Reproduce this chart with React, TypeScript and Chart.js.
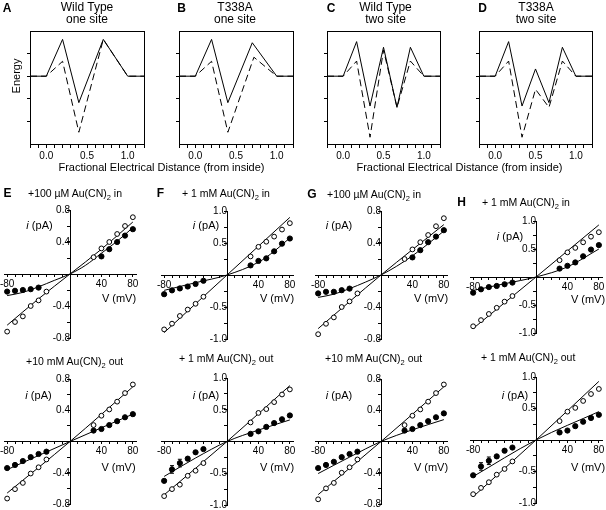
import React, { useEffect, useRef } from "react";
import { Chart, registerables } from "chart.js";

Chart.register(...registerables);
Chart.defaults.color = "#000";
Chart.defaults.font.family = '"Liberation Sans", Arial, Helvetica, sans-serif';

const FONT = '"Liberation Sans", Arial, Helvetica, sans-serif';

// ---------------- Energy profiles (panels A-D) ----------------
const oneSiteX = [-0.2, 0, 0.2, 0.4, 0.7, 1.0, 1.2];
const wtOneSolid = [0, 0, 1.63, -1.17, 1.63, 0, 0];
const wtOneDashed = [0, 0, 0.66, -2.48, 1.63, 0, 0];
const t338OneSolid = [0, 0, 1.63, -1.17, 1.48, 0, 0];
const t338OneDashedX = [-0.2, 0, 0.2, 0.4, 0.72, 1.0, 1.2];
const t338OneDashed = [0, 0, 0.66, -2.48, 0.84, 0, 0];
const twoSiteX = [-0.2, 0, 0.167, 0.333, 0.5, 0.667, 0.833, 1.0, 1.2];
const wtTwoSolid = [0, 0, 1.53, -1.32, 1.28, -1.38, 1.28, 0, 0];
const wtTwoDashed = [0, 0, 0.67, -2.7, 1.16, -1.38, 0.67, 0, 0];
const t338TwoSolid = [0, 0, 1.53, -1.32, 0.32, -1.17, 1.28, 0, 0];
const t338TwoDashed = [0, 0, 0.67, -2.7, -0.58, -1.38, 0.67, 0, 0];
const energyXTicks = [-0.2, -0.1, 0, 0.1, 0.2, 0.3, 0.4, 0.5, 0.6, 0.7, 0.8, 0.9, 1.0, 1.1, 1.2];
const energyXLabels = [0, 0.5, 1.0];
const energyYTicks = [-2, -1, 0, 1];

// ---------------- I-V data (panels E-H) ----------------
const vFull = [-80, -70, -60, -50, -40, -30, 30, 40, 50, 60, 70, 80];
const vPart = [-80, -70, -60, -50, -40, 40, 50, 60, 70, 80];
const ivXTicks = [-80, -70, -60, -50, -40, -30, -20, -10, 0, 10, 20, 30, 40, 50, 60, 70, 80];
const ivXLabels = [-80, 40, 80];

// E top: +100 uM Au(CN)2 in
const eInOpen = [-0.72, -0.6, -0.53, -0.4, -0.33, -0.22, 0.21, 0.32, 0.4, 0.5, 0.6, 0.71];
const eInFilled = [-0.22, -0.21, -0.2, -0.19, -0.17, 0.22, 0.31, 0.4, 0.48, 0.56];
const eInFitOpenV = [-80, -40, 0, 40, 80];
const eInFitOpen = [-0.64, -0.31, 0, 0.31, 0.65];
const eInFitFilledV = [-80, -60, -40, -20, 0, 20, 40, 60, 80];
const eInFitFilled = [-0.27, -0.23, -0.16, -0.08, 0, 0.11, 0.26, 0.41, 0.58];

// F top: +1 mM Au(CN)2 in
const fInOpen = [-0.85, -0.76, -0.64, -0.54, -0.45, -0.34, 0.29, 0.44, 0.52, 0.6, 0.71, 0.81];
const fInFilled = [-0.3, -0.24, -0.21, -0.18, -0.14, -0.09, 0.15, 0.22, 0.26, 0.37, 0.49, 0.57];
const fInFitOpenV = [-80, 0, 80];
const fInFitOpen = [-0.9, 0, 0.9];
const fInFitFilledV = [-80, -40, 0, 40, 60, 80];
const fInFitFilled = [-0.24, -0.12, 0, 0.2, 0.37, 0.58];

// G top: +100 uM Au(CN)2 in
const gInOpen = [-0.74, -0.61, -0.53, -0.4, -0.33, -0.23, 0.2, 0.32, 0.41, 0.5, 0.61, 0.71];
const gInFilled = [-0.23, -0.21, -0.21, -0.19, -0.17, 0.22, 0.31, 0.41, 0.48, 0.56];
const gInFitOpenV = [-80, 0, 80];
const gInFitOpen = [-0.67, 0, 0.63];
const gInFitFilledV = [-80, -60, -40, -20, 0, 20, 40, 60, 80];
const gInFitFilled = [-0.28, -0.24, -0.17, -0.09, 0, 0.11, 0.24, 0.39, 0.55];

// H top: +1 mM Au(CN)2 in
const hInOpen = [-0.88, -0.77, -0.66, -0.55, -0.44, -0.34, 0.3, 0.44, 0.52, 0.62, 0.72, 0.8];
const hInFilled = [-0.28, -0.22, -0.18, -0.16, -0.13, -0.1, 0.15, 0.2, 0.26, 0.37, 0.49, 0.57];
const hInFitOpenV = [-80, 0, 80];
const hInFitOpen = [-0.92, 0, 0.93];
const hInFitFilledV = [-80, -40, 0, 40, 80];
const hInFitFilled = [-0.24, -0.12, 0, 0.18, 0.5];

// E bottom: +10 mM Au(CN)2 out
const eOutOpen = [-0.73, -0.61, -0.53, -0.41, -0.33, -0.23, 0.21, 0.33, 0.41, 0.51, 0.62, 0.73];
const eOutFilled = [-0.34, -0.3, -0.25, -0.2, -0.16, -0.13, 0.14, 0.16, 0.21, 0.26, 0.31, 0.35];
const eOutFitOpenV = [-80, 0, 80];
const eOutFitOpen = [-0.66, 0, 0.7];
const eOutFitFilledV = [-80, 0, 80];
const eOutFitFilled = [-0.36, 0, 0.35];

// F bottom: +1 mM Au(CN)2 out
const fOutOpen = [-0.86, -0.75, -0.68, -0.54, -0.46, -0.34, 0.3, 0.45, 0.51, 0.62, 0.74, 0.82];
const fOutFilled = [-0.62, -0.44, -0.34, -0.27, -0.17, -0.12, 0.12, 0.16, 0.23, 0.29, 0.35, 0.41];
const fOutFilledErr = [0, 0.06, 0.06, 0, 0, 0, 0, 0, 0, 0, 0, 0];
const fOutFitOpenV = [-80, 0, 80];
const fOutFitOpen = [-0.84, 0, 0.88];
const fOutFitFilledV = [-80, -40, 0, 40, 80];
const fOutFitFilled = [-0.55, -0.26, 0, 0.18, 0.34];

// G bottom: +10 mM Au(CN)2 out
const gOutOpen = [-0.74, -0.6, -0.53, -0.4, -0.33, -0.23, 0.21, 0.33, 0.41, 0.51, 0.62, 0.73];
const gOutFilled = [-0.34, -0.3, -0.26, -0.2, -0.16, -0.13, 0.14, 0.16, 0.21, 0.26, 0.31, 0.36];
const gOutFitOpenV = [-80, 0, 80];
const gOutFitOpen = [-0.68, 0, 0.7];
const gOutFitFilledV = [-80, -40, 0, 40, 80];
const gOutFitFilled = [-0.41, -0.2, 0, 0.15, 0.28];

// H bottom: +1 mM Au(CN)2 out
const hOutOpen = [-0.86, -0.76, -0.67, -0.55, -0.46, -0.34, 0.3, 0.45, 0.51, 0.62, 0.73, 0.81];
const hOutFilled = [-0.56, -0.42, -0.33, -0.26, -0.17, -0.12, 0.12, 0.15, 0.22, 0.29, 0.35, 0.4];
const hOutFilledErr = [0, 0.06, 0.06, 0, 0, 0, 0, 0, 0, 0, 0, 0];
const hOutFitOpenV = [-80, 0, 80];
const hOutFitOpen = [-0.9, 0, 0.93];
const hOutFitFilledV = [-80, 0, 80];
const hOutFitFilled = [-0.58, 0, 0.45];

// ---------------- helpers ----------------
const pts = (xs: number[], ys: number[]) => xs.map((x, i) => ({ x, y: ys[i] }));
const near = (a: number, list: number[]) => list.some((b) => Math.abs(a - b) < 1e-6);

const errorBarPlugin = {
  id: "errbars",
  beforeDatasetsDraw(chart: any) {
    const { ctx } = chart;
    const xs = chart.scales.x;
    const ys = chart.scales.y;
    chart.data.datasets.forEach((ds: any) => {
      if (!ds.errors) return;
      ds.data.forEach((p: any, j: number) => {
        const e = ds.errors[j];
        if (!e) return;
        const px = xs.getPixelForValue(p.x);
        const y1 = ys.getPixelForValue(p.y + e);
        const y2 = ys.getPixelForValue(p.y - e);
        ctx.save();
        ctx.strokeStyle = "#000";
        ctx.lineWidth = 1;
        ctx.beginPath();
        ctx.moveTo(px, y1);
        ctx.lineTo(px, y2);
        ctx.moveTo(px - 2, y1);
        ctx.lineTo(px + 2, y1);
        ctx.moveTo(px - 2, y2);
        ctx.lineTo(px + 2, y2);
        ctx.stroke();
        ctx.restore();
      });
    });
  },
};

const PAD = 30;

type Rect = { left: number; top: number; width: number; height: number };

function ChartCanvas({ rect, config }: { rect: Rect; config: any }) {
  const ref = useRef<HTMLCanvasElement>(null);
  useEffect(() => {
    const chart = new Chart(ref.current as HTMLCanvasElement, config);
    return () => chart.destroy();
  }, []);
  const w = rect.width + 2 * PAD;
  const h = rect.height + 2 * PAD;
  return (
    <canvas
      ref={ref}
      width={w}
      height={h}
      style={{ position: "absolute", left: rect.left - PAD, top: rect.top - PAD, width: w, height: h }}
    />
  );
}

const tickFont = { family: FONT, size: 10 };

function energyConfig(solidX: number[], solid: number[], dashedX: number[], dashed: number[]) {
  const frame = (axis: string, position: any) => ({
    type: "linear",
    axis,
    min: axis === "x" ? -0.2 : -3,
    max: axis === "x" ? 1.2 : 2,
    position,
    ticks: { display: false },
    grid: { display: false, drawTicks: false },
    border: { display: true, color: "#000", width: 1 },
  });
  return {
    type: "scatter",
    data: {
      datasets: [
        { data: pts(solidX, solid), showLine: true, borderColor: "#000", borderWidth: 1, pointRadius: 0 },
        { data: pts(dashedX, dashed), showLine: true, borderColor: "#000", borderWidth: 1, borderDash: [7, 4], pointRadius: 0 },
      ],
    },
    options: {
      animation: false,
      responsive: false,
      events: [],
      layout: { padding: PAD },
      plugins: { legend: { display: false }, tooltip: { enabled: false } },
      scales: {
        x: {
          type: "linear",
          min: -0.2,
          max: 1.2,
          position: { y: -3 },
          afterBuildTicks: (s: any) => { s.ticks = energyXTicks.map((v) => ({ value: v })); },
          ticks: {
            autoSkip: false,
            maxRotation: 0,
            padding: 3,
            font: tickFont,
            callback: (v: number) => (near(v, energyXLabels) ? v.toFixed(1) : ""),
          },
          grid: { display: true, drawOnChartArea: false, drawTicks: true, tickLength: 3, color: "#000" },
          border: { display: true, color: "#000", width: 1 },
        },
        y: {
          type: "linear",
          min: -3,
          max: 2,
          position: { x: -0.2 },
          afterBuildTicks: (s: any) => { s.ticks = energyYTicks.map((v) => ({ value: v })); },
          ticks: { display: false },
          grid: { display: true, drawOnChartArea: false, drawTicks: true, tickLength: 3, color: "#000" },
          border: { display: true, color: "#000", width: 1 },
        },
        xTop: frame("x", { y: 2 }),
        yRight: frame("y", { x: 1.2 }),
      },
    },
  };
}

type IVSpec = {
  ox: number; oy: number; sx: number; sy: number;
  yMax: number; yLabelStep: number;
  openV: number[]; openI: number[];
  filledV: number[]; filledI: number[]; filledErr?: number[];
  fitOpenV: number[]; fitOpenI: number[];
  fitFilledV: number[]; fitFilledI: number[];
};

const X_MIN = -84;
const X_MAX = 84;

function ivRect(s: IVSpec): Rect {
  const left = Math.round(s.ox + X_MIN * s.sx);
  const right = Math.round(s.ox + X_MAX * s.sx);
  const top = Math.round(s.oy - s.yMax * s.sy);
  const bottom = Math.round(s.oy + s.yMax * s.sy);
  return { left, top, width: right - left, height: bottom - top };
}

function ivConfig(s: IVSpec) {
  const yLabels = [-2, -1, 1, 2].map((k) => k * s.yLabelStep);
  const yTicks = [-4, -3, -2, -1, 0, 1, 2, 3, 4].map((k) => (k * s.yLabelStep) / 2);
  return {
    type: "scatter",
    plugins: [errorBarPlugin],
    data: {
      datasets: [
        { data: pts(s.openV, s.openI), pointRadius: 2.4, pointBorderWidth: 1, pointBackgroundColor: "#fff", pointBorderColor: "#000", clip: false, order: 0 },
        { data: pts(s.filledV, s.filledI), errors: s.filledErr, pointRadius: 2.6, pointBorderWidth: 1, pointBackgroundColor: "#000", pointBorderColor: "#000", clip: false, order: 1 },
        { data: pts(s.fitOpenV, s.fitOpenI), showLine: true, pointRadius: 0, borderColor: "#000", borderWidth: 1, cubicInterpolationMode: "monotone", clip: false, order: 2 },
        { data: pts(s.fitFilledV, s.fitFilledI), showLine: true, pointRadius: 0, borderColor: "#000", borderWidth: 1, cubicInterpolationMode: "monotone", clip: false, order: 3 },
      ],
    },
    options: {
      animation: false,
      responsive: false,
      events: [],
      layout: { padding: PAD },
      plugins: { legend: { display: false }, tooltip: { enabled: false } },
      scales: {
        x: {
          type: "linear",
          min: X_MIN,
          max: X_MAX,
          position: { y: 0 },
          afterBuildTicks: (sc: any) => { sc.ticks = ivXTicks.map((v) => ({ value: v })); },
          ticks: {
            autoSkip: false,
            maxRotation: 0,
            padding: 2,
            font: tickFont,
            callback: (v: number) => (near(v, ivXLabels) ? String(v) : ""),
          },
          grid: { display: true, drawOnChartArea: false, drawTicks: true, tickLength: 2, color: "#000" },
          border: { display: true, color: "#000", width: 1 },
        },
        y: {
          type: "linear",
          min: -s.yMax,
          max: s.yMax,
          position: { x: 0 },
          afterBuildTicks: (sc: any) => { sc.ticks = yTicks.map((v) => ({ value: v })); },
          ticks: {
            autoSkip: false,
            padding: 1,
            font: tickFont,
            callback: (v: number) => (near(v, yLabels) ? v.toFixed(1) : ""),
          },
          grid: { display: true, drawOnChartArea: false, drawTicks: true, tickLength: 3, color: "#000" },
          border: { display: true, color: "#000", width: 1 },
        },
      },
    },
  };
}

// ---------------- layout ----------------
const energyRects: Rect[] = [
  { left: 30, top: 31, width: 114, height: 113 },
  { left: 179, top: 31, width: 114, height: 113 },
  { left: 327, top: 31, width: 113, height: 113 },
  { left: 479, top: 31, width: 113, height: 113 },
];
const energyConfigs = [
  energyConfig(oneSiteX, wtOneSolid, oneSiteX, wtOneDashed),
  energyConfig(oneSiteX, t338OneSolid, t338OneDashedX, t338OneDashed),
  energyConfig(twoSiteX, wtTwoSolid, twoSiteX, wtTwoDashed),
  energyConfig(twoSiteX, t338TwoSolid, twoSiteX, t338TwoDashed),
];
const energyTitles = [
  { letter: "A", lx: 7, x: 87, l1: "Wild Type", l2: "one site" },
  { letter: "B", lx: 181.5, x: 235, l1: "T338A", l2: "one site" },
  { letter: "C", lx: 331, x: 385.5, l1: "Wild Type", l2: "two site" },
  { letter: "D", lx: 482.5, x: 536, l1: "T338A", l2: "two site" },
];

const ivSpecs: IVSpec[] = [
  { ox: 70, oy: 274, sx: 0.79, sy: 80, yMax: 0.8, yLabelStep: 0.4, openV: vFull, openI: eInOpen, filledV: vPart, filledI: eInFilled, fitOpenV: eInFitOpenV, fitOpenI: eInFitOpen, fitFilledV: eInFitFilledV, fitFilledI: eInFitFilled },
  { ox: 227, oy: 274.5, sx: 0.79, sy: 64, yMax: 1.0, yLabelStep: 0.5, openV: vFull, openI: fInOpen, filledV: vFull, filledI: fInFilled, fitOpenV: fInFitOpenV, fitOpenI: fInFitOpen, fitFilledV: fInFitFilledV, fitFilledI: fInFitFilled },
  { ox: 381, oy: 274.5, sx: 0.79, sy: 80, yMax: 0.8, yLabelStep: 0.4, openV: vFull, openI: gInOpen, filledV: vPart, filledI: gInFilled, fitOpenV: gInFitOpenV, fitOpenI: gInFitOpen, fitFilledV: gInFitFilledV, fitFilledI: gInFitFilled },
  { ox: 536, oy: 277, sx: 0.79, sy: 56, yMax: 1.0, yLabelStep: 0.5, openV: vFull, openI: hInOpen, filledV: vFull, filledI: hInFilled, fitOpenV: hInFitOpenV, fitOpenI: hInFitOpen, fitFilledV: hInFitFilledV, fitFilledI: hInFitFilled },
  { ox: 70, oy: 441.7, sx: 0.79, sy: 78, yMax: 0.8, yLabelStep: 0.4, openV: vFull, openI: eOutOpen, filledV: vFull, filledI: eOutFilled, fitOpenV: eOutFitOpenV, fitOpenI: eOutFitOpen, fitFilledV: eOutFitFilledV, fitFilledI: eOutFitFilled },
  { ox: 227, oy: 441.7, sx: 0.79, sy: 63.4, yMax: 1.0, yLabelStep: 0.5, openV: vFull, openI: fOutOpen, filledV: vFull, filledI: fOutFilled, filledErr: fOutFilledErr, fitOpenV: fOutFitOpenV, fitOpenI: fOutFitOpen, fitFilledV: fOutFitFilledV, fitFilledI: fOutFitFilled },
  { ox: 381, oy: 441.7, sx: 0.79, sy: 78, yMax: 0.8, yLabelStep: 0.4, openV: vFull, openI: gOutOpen, filledV: vFull, filledI: gOutFilled, fitOpenV: gOutFitOpenV, fitOpenI: gOutFitOpen, fitFilledV: gOutFitFilledV, fitFilledI: gOutFitFilled },
  { ox: 536, oy: 440, sx: 0.79, sy: 63.4, yMax: 1.0, yLabelStep: 0.5, openV: vFull, openI: hOutOpen, filledV: vFull, filledI: hOutFilled, filledErr: hOutFilledErr, fitOpenV: hOutFitOpenV, fitOpenI: hOutFitOpen, fitFilledV: hOutFitFilledV, fitFilledI: hOutFitFilled },
];

type IVText = {
  letter?: string; lx?: number; ly?: number;
  conc: string; side: string; tx: number; ty: number;
  ix: number; iy: number; vx: number; vy: number;
};
const ivTexts: IVText[] = [
  { letter: "E", lx: 7.5, ly: 193, conc: "+100 \u00b5M", side: "in", tx: 28, ty: 193, ix: 39.5, iy: 225, vx: 119, vy: 298 },
  { letter: "F", lx: 160.5, ly: 193, conc: "+ 1 mM", side: "in", tx: 182, ty: 193, ix: 206, iy: 225, vx: 277, vy: 298 },
  { letter: "G", lx: 312, ly: 194, conc: "+100 \u00b5M", side: "in", tx: 327, ty: 194, ix: 339, iy: 225, vx: 431, vy: 298 },
  { letter: "H", lx: 461.5, ly: 202, conc: "+ 1 mM", side: "in", tx: 482, ty: 202, ix: 510, iy: 236, vx: 588, vy: 299 },
  { conc: "+10 mM", side: "out", tx: 26, ty: 360.5, ix: 38.5, iy: 395, vx: 118.5, vy: 466.5 },
  { conc: "+ 1 mM", side: "out", tx: 179, ty: 358, ix: 206, iy: 395, vx: 277, vy: 466.5 },
  { conc: "+10 mM", side: "out", tx: 325, ty: 358, ix: 339, iy: 395, vx: 431, vy: 466.5 },
  { conc: "+ 1 mM", side: "out", tx: 481, ty: 357, ix: 515, iy: 395, vx: 588, vy: 466.5 },
];

function T({ x, y, size = 11, bold = false, anchor = "center", rotate = 0, children }: any) {
  const tx = anchor === "center" ? "-50%" : "0";
  return (
    <div
      style={{
        position: "absolute",
        left: x,
        top: y,
        transform: `translate(${tx}, -50%) rotate(${rotate}deg)`,
        fontFamily: FONT,
        fontSize: size,
        fontWeight: bold ? "bold" : "normal",
        whiteSpace: "nowrap",
        lineHeight: 1,
        color: "#000",
      }}
    >
      {children}
    </div>
  );
}

export default function App() {
  return (
    <div style={{ position: "absolute", left: 0, top: 0, width: 606, height: 510, background: "#fff", overflow: "hidden" }}>
      {energyRects.map((r, i) => (
        <ChartCanvas key={"e" + i} rect={r} config={energyConfigs[i]} />
      ))}
      {ivSpecs.map((s, i) => (
        <ChartCanvas key={"iv" + i} rect={ivRect(s)} config={ivConfig(s)} />
      ))}
      {energyTitles.map((t, i) => (
        <React.Fragment key={"et" + i}>
          <T x={t.lx} y={8} size={12} bold>{t.letter}</T>
          <T x={t.x} y={7} size={12}>{t.l1}</T>
          <T x={t.x} y={19} size={12}>{t.l2}</T>
        </React.Fragment>
      ))}
      <T x={16} y={76} size={11} rotate={-90}>Energy</T>
      <T x={161.5} y={167} size={11}>Fractional Electrical Distance (from inside)</T>
      <T x={459.5} y={167} size={11}>Fractional Electrical Distance (from inside)</T>
      {ivTexts.map((t, i) => (
        <React.Fragment key={"it" + i}>
          {t.letter ? <T x={t.lx} y={t.ly} size={12} bold>{t.letter}</T> : null}
          <T x={t.tx} y={t.ty} size={10.5} anchor="left">
            {t.conc} Au(CN)<span style={{ fontSize: 7.5, position: "relative", top: 3 }}>2</span> {t.side}
          </T>
          <T x={t.ix} y={t.iy} size={11}><i>i</i> (pA)</T>
          <T x={t.vx} y={t.vy} size={11}>V (mV)</T>
        </React.Fragment>
      ))}
    </div>
  );
}
